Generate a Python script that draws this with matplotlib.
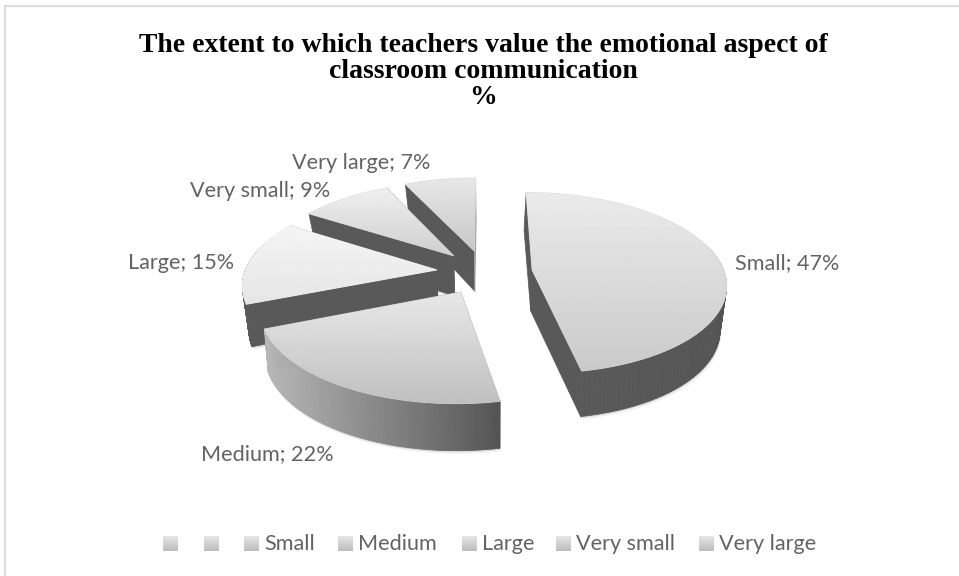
import numpy as np
import matplotlib
matplotlib.use('Agg')
import matplotlib.pyplot as plt
from matplotlib.patches import Polygon
from matplotlib.collections import PolyCollection

# Chart data
categories = ['Small', 'Medium', 'Large', 'Very small', 'Very large']
values = [47, 22, 15, 9, 7]
legend_names = ['', '', 'Small', 'Medium', 'Large', 'Very small', 'Very large']
title_lines = ['The extent to which teachers value the emotional aspect of',
               'classroom communication', '%']

# Pie geometry, in pixels
cx, cy = 484.5, 272
rx, ry = 192, 89
persp = 0.144
explode = 0.25
depth = 41

# Greys per slice: top face (upper, lower), rim (left, right), cut faces (start, end)
top_greys = [(0.92, 0.79), (0.91, 0.75), (0.96, 0.90), (0.94, 0.81), (0.91, 0.78)]
rim_greys = [(0.36, 0.33), (0.72, 0.33), (0.36, 0.35), (0.35, 0.35), (0.40, 0.40)]
cut_greys = [('#595959', '#595959'), ('#595959', '#595959'), ('#595959', '#595959'),
             ('#595959', '#595959'), ('#595959', '#a0a0a0')]
text_color = '#636363'
label_font = ['Lato', 'DejaVu Sans']

label_pos = {'Small': (735, 263, 'left'), 'Medium': (267, 454, 'center'),
             'Large': (181, 263, 'center'), 'Very small': (260, 191, 'center'),
             'Very large': (361, 163, 'center')}
legend_x = [163, 204, 244, 338, 462, 556, 699]


def project(p, q, lower=False):
    # p goes right, q goes toward the viewer, both in pie radii
    s = 1 / (1 - persp * q)
    x = rx * p * s
    y = ry * q * s
    if lower:
        return cx + x * (0.97 + 0.02 * q), cy + y + depth * (1 + 0.7 * (s - 1))
    return cx + x, cy + y


def arc(a0, a1, ox, oy, lower=False, n=120):
    t = np.linspace(a0, a1, n)
    return project(ox + np.sin(t), oy - np.cos(t), lower)


fig = plt.figure(figsize=(9.59, 5.76), dpi=100)
ax = fig.add_axes([0, 0, 1, 1])
ax.axis('off')

# Thin frame on the top and left sides only
ax.plot([4.5, 4.5, 959], [576, 5.5, 5.5], color='#dcdcdc', lw=1.6, zorder=1)

# Slice angles, clockwise from twelve o'clock
fracs = np.array(values) / sum(values)
ends = np.cumsum(fracs) * 2 * np.pi
starts = ends - fracs * 2 * np.pi
mids = (starts + ends) / 2

# Paint back slices first
order = sorted(range(len(values)), key=lambda i: -np.cos(mids[i]))
z = 2
for i in order:
    a0, a1 = starts[i], ends[i]
    ox, oy = explode * np.sin(mids[i]), -explode * np.cos(mids[i])
    angles = np.linspace(a0, a1, 120)
    tx, ty = arc(a0, a1, ox, oy)
    bx, by = arc(a0, a1, ox, oy, lower=True)
    ax0, ay0 = project(ox, oy)
    bx0, by0 = project(ox, oy, lower=True)

    # Soft shadow under the solid
    sx = np.r_[bx0, bx]
    sy = np.r_[by0, by]
    for grow, alpha in [(3.0, 0.10), (1.5, 0.20)]:
        ax.add_patch(Polygon(np.c_[sx + 0.4 * grow, sy + grow], closed=True, fc='#808080',
                             ec='none', alpha=alpha, zorder=z))
    z += 1

    def cut_face(k, color):
        ax.add_patch(Polygon([(ax0, ay0), (tx[k], ty[k]), (bx[k], by[k]), (bx0, by0)], closed=True,
                             fc=color, ec=color, lw=0.5, zorder=z))

    # Faces turned away from the viewer go behind the rim
    start_front = -np.sin(a0) > -1e-6
    end_front = np.sin(a1) > -1e-6
    if not start_front:
        cut_face(0, cut_greys[i][0])
    if not end_front:
        cut_face(-1, cut_greys[i][1])
    z += 1

    # Outer rim, shaded across its width; only the part facing the viewer
    g0, g1 = rim_greys[i]
    span = max(tx.max() - tx.min(), 1)
    quads, shades = [], []
    for k in range(len(tx) - 1):
        if -np.cos(angles[k]) > -0.3:
            quads.append([(tx[k], ty[k]), (tx[k + 1], ty[k + 1]), (bx[k + 1], by[k + 1]), (bx[k], by[k])])
            g = g0 + (g1 - g0) * (tx[k] - tx.min()) / span
            shades.append((g, g, g))
    if quads:
        ax.add_collection(PolyCollection(quads, facecolors=shades, edgecolors=shades,
                                         linewidths=0.5, zorder=z))
    z += 1

    if start_front:
        cut_face(0, cut_greys[i][0])
    if end_front:
        cut_face(-1, cut_greys[i][1])
    z += 1

    # Top face with a vertical gradient, clipped to the slice outline
    mean_g = sum(top_greys[i]) / 2
    outline = Polygon(np.c_[np.r_[ax0, tx], np.r_[ay0, ty]], closed=True, fc=(mean_g,) * 3,
                      ec=(mean_g,) * 3, lw=0.7, zorder=z)
    ax.add_patch(outline)
    grad = np.linspace(top_greys[i][0], top_greys[i][1], 128).reshape(-1, 1)
    top_y, bot_y = min(ty.min(), ay0), max(ty.max(), ay0)
    im = ax.imshow(grad, cmap='gray', vmin=0, vmax=1, aspect='auto', zorder=z,
                   extent=(min(tx.min(), ax0) - 2, max(tx.max(), ax0) + 2, bot_y + 1, top_y - 1))
    im.set_clip_path(outline)
    z += 1

# Data labels
for name, val in zip(categories, values):
    x, y, ha = label_pos[name]
    ax.text(x, y, f'{name}; {val}%', ha=ha, va='center', fontsize=15.6, color=text_color,
            family=label_font, zorder=50)

# Title
for line, y in zip(title_lines, [52, 78, 104]):
    ax.text(483, y, line, ha='center', va='baseline', fontsize=20, fontweight='bold',
            family='Liberation Serif', color='black', zorder=50)

# Legend row
legend_grad = np.linspace(0.90, 0.74, 32).reshape(-1, 1)
for x, name in zip(legend_x, legend_names):
    ax.imshow(legend_grad, cmap='gray', vmin=0, vmax=1, aspect='auto', zorder=50,
              extent=(x, x + 15, 551, 536))
    if name:
        ax.text(x + 20, 544, name, ha='left', va='center', fontsize=15.6, color=text_color,
                family=label_font, zorder=50)

ax.set_xlim(0, 959)
ax.set_ylim(576, 0)
fig.savefig('out.png', dpi=100)
